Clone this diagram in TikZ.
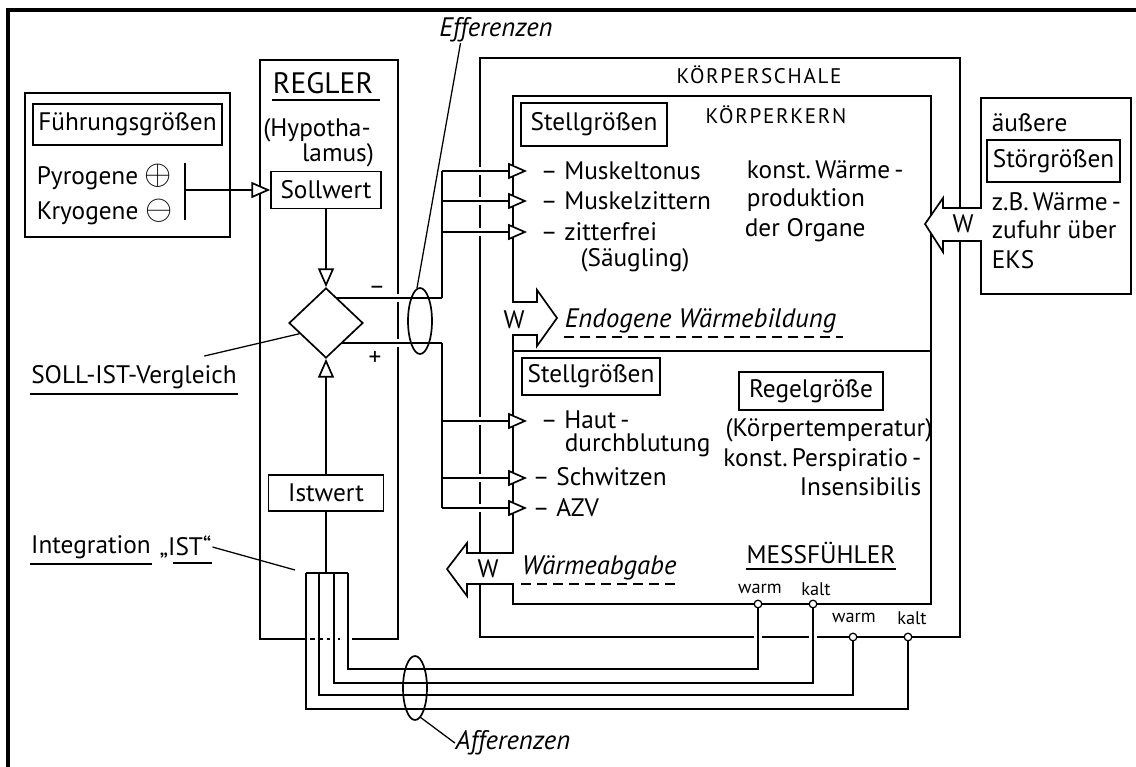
\documentclass[tikz,border=0pt]{standalone}
\usepackage{fontspec}
\setmainfont{PT Sans}
\usepackage{amsmath}
\usetikzlibrary{arrows.meta,positioning,shapes.geometric}

\begin{document}
\begin{tikzpicture}[x=0.025cm,y=-0.025cm,line width=1.2pt]
  \tikzstyle{lbl}=[inner sep=0pt,font=\fontsize{18}{20}\selectfont]
  \tikzstyle{lblw}=[lbl,anchor=west]
  \tikzstyle{caps}=[inner sep=0pt,font=\fontsize{15}{18}\selectfont\addfontfeature{LetterSpace=8}]
  \tikzstyle{ita}=[inner sep=0pt,font=\fontsize{19}{22}\selectfont\itshape]
  \tikzstyle{sml}=[inner sep=0pt,font=\fontsize{13}{15}\selectfont]
  \tikzstyle{box}=[draw,lbl,inner sep=3pt]
  \tikzstyle{tri}=[-{Triangle[fill=white,length=0.47cm,width=0.4cm]}]
  \tikzstyle{gap}=[preaction={draw=white,line width=5pt,-}]
  \tikzstyle{leader}=[line width=0.9pt]
  \tikzstyle{sensor}=[circle,draw,fill=white,inner sep=0pt,minimum size=0.19cm,line width=0.9pt]
  \tikzstyle{dashul}=[dash pattern=on 0.26cm off 0.14cm]

  \useasboundingbox (0,0) rectangle (1136,767);
  \fill[white] (0,0) rectangle (1136,767);
  \draw[line width=2.2pt] (8,767) -- (8,10) -- (1136,10);

  \draw (25,93) rectangle (230,237);
  \node[box,minimum width=4.72cm,minimum height=1.03cm] (fg) at (127.5,124.5) {Führungsgrößen};
  \node[lblw] (pyro) at (36,177) {Pyrogene {\fontsize{24}{24}\selectfont$\oplus$}};
  \node[lblw] (kryo) at (36,212) {Kryogene {\fontsize{24}{24}\selectfont$\ominus$}};
  \coordinate (bart) at (185,163);
  \coordinate (barb) at (185,220);
  \coordinate (barm) at (185,190);
  \draw (bart) -- (barb);

  \draw (302,639) -- (260,639) -- (260,60) -- (398,60) -- (398,639) -- (352,639);
  \draw[dashed] (302,639) -- (352,639);
  \node[lbl,font=\fontsize{21}{24}\selectfont] (regler) at (323,83) {REGLER};
  \draw ([yshift=-4pt]regler.south west) -- ([xshift=4pt,yshift=-4pt]regler.south east);
  \node[lbl] (hyp1) at (317,130) {(Hypotha-};
  \node[lbl] (hyp2) at (338,155) {lamus)};
  \node[box,minimum width=2.75cm,minimum height=0.93cm] (soll) at (326,190) {Sollwert};
  \node[box,minimum width=2.88cm,minimum height=0.9cm] (istw) at (326,493) {Istwert};
  \draw[tri] (barm) -- (soll);

  \draw (480,58) rectangle (960,637);
  \node[caps] (schale) at (759,75) {KÖRPERSCHALE};
  \draw[fill=white] (513,96) -- (931,96) -- (931,604) -- (513,604) -- (513,584) -- (467,584)
    -- (467,596) -- (447,569) -- (467,543) -- (467,553) -- (513,553) -- (513,335) -- (537,335)
    -- (537,346) -- (557,318) -- (537,290) -- (537,302) -- (513,302) -- cycle;
  \draw (513,351) -- (931,351);
  \node[caps] (kern) at (776,115) {KÖRPERKERN};

  \draw[fill=white] (981,98) -- (1131,98) -- (1131,294) -- (981,294) -- (981,241) -- (943,241)
    -- (943,252) -- (925,224) -- (943,198) -- (943,208) -- (981,208) -- cycle;
  \node[lbl] (wein) at (963,224) {W};
  \node[lblw] (aeuss) at (991,123) {äußere};
  \node[box,minimum width=3.33cm,minimum height=1.05cm] (stoer) at (1053.5,161) {Störgrößen};
  \node[lblw] (zb1) at (991,202) {z.B.\,Wärme\,-};
  \node[lblw] (zb2) at (991,230) {zufuhr über};
  \node[lblw] (zb3) at (991,260) {EKS};

  \coordinate (vc) at (326,323);
  \coordinate (em) at (442,298);
  \coordinate (ep) at (442,343);
  \foreach \y/\n in {171/1,201/2,232/3,421/4,478/5,508/6} {
    \coordinate (t\n) at (442,\y);
    \coordinate (m\n) at (527,\y);
    \draw[tri,gap] (t\n) -- (m\n);
  }
  \draw[gap] (vc |- em) -- (em);
  \draw[gap] (vc |- ep) -- (ep);
  \draw (em) -- (t1);
  \draw (ep) -- (t6);
  \node[diamond,draw,fill=white,minimum width=1.85cm,minimum height=1.75cm,inner sep=0pt] (vgl) at (vc) {};
  \draw[tri] (soll) -- (vgl);
  \draw[tri] (istw) -- (vgl);
  \node[lbl] (minus) at (377,290) {--};
  \node[lbl] (plus) at (375,358) {+};

  \draw (420,321) ellipse [x radius=12,y radius=33];
  \coordinate (effe) at (417,288);
  \node[ita] (eff) at (496,30) {Efferenzen};
  \draw[leader] ([xshift=0.55cm]eff.south west) -- (effe);

  \node[lbl] (sivgl) at (134,377) {SOLL-IST-Vergleich};
  \draw ([yshift=-3pt]sivgl.south west) -- ([yshift=-3pt]sivgl.south east);
  \draw[leader] ([xshift=-0.83cm,yshift=6pt]sivgl.north east) -- (vgl.202);

  \node[lbl] (integ) at (91,547) {Integration};
  \node[lbl,right=5pt of integ] (istq) {„IST“};
  \draw ([yshift=-3pt]integ.south west) -- ([yshift=-3pt]integ.south east);
  \draw ([xshift=0.35cm,yshift=-3pt]istq.south west) -- ([yshift=-3pt]istq.south east);
  \coordinate (intl) at (295,570);
  \draw[leader] (istq.east) -- (intl);

  \node[box,minimum width=3.65cm,minimum height=1.07cm] (stell1) at (594,124.5) {Stellgrößen};
  \node[lblw] (mton) at (540,171) {-- Muskeltonus};
  \node[lblw] (mzit) at (540,201) {-- Muskelzittern};
  \node[lblw] (zitf) at (540,232) {-- zitterfrei};
  \node[lbl] (saeug) at (635,260) {(Säugling)};
  \node[lblw] (kw1) at (746,170) {konst.\,Wärme\,-};
  \node[lblw] (kw2) at (746,200) {produktion};
  \node[lblw] (kw3) at (744,230) {der Organe};
  \node[lbl] (wendo) at (514,320) {W};
  \node[ita,anchor=west] (endo) at (564,321) {Endogene Wärmebildung};
  \draw[dashul] ([yshift=-2pt]endo.south west) -- ([xshift=4pt,yshift=-2pt]endo.south east);

  \node[box,minimum width=3.45cm,minimum height=0.93cm] (stell2) at (591,376.5) {Stellgrößen};
  \node[lblw] (haut) at (540,420) {-- Haut\,-};
  \node[lblw] (durch) at (564,445) {durchblutung};
  \node[lblw] (schw) at (532,477) {-- Schwitzen};
  \node[lblw] (azv) at (532,508) {-- AZV};
  \node[box,minimum width=3.6cm,minimum height=0.95cm] (regel) at (811,391) {Regelgröße};
  \node[lbl] (ktemp) at (829,430) {(Körpertemperatur)};
  \node[lbl,anchor=east] (persp) at (922,460) {konst.\,Perspiratio\,-};
  \node[lbl,anchor=east] (insens) at (922,487) {Insensibilis};
  \node[lbl] (wabg) at (488,569) {W};
  \node[ita,anchor=west] (abg) at (521,568) {Wärmeabgabe};
  \draw[dashul] ([yshift=-2pt]abg.south west) -- ([yshift=-2pt]abg.south east);
  \node[lbl] (mess) at (821,553) {MESSFÜHLER};
  \draw ([yshift=-3pt]mess.south west) -- ([yshift=-3pt]mess.south east);
  \node[sml] (warm1) at (760,589) {warm};
  \node[sml] (kalt1) at (816,589) {kalt};
  \node[sml] (warm2) at (854,618) {warm};
  \node[sml] (kalt2) at (912,618) {kalt};

  \coordinate (i1) at (348,573);
  \coordinate (i2) at (334,573);
  \coordinate (i3) at (319,573);
  \coordinate (i4) at (306,573);
  \coordinate (itop) at (326,573);
  \coordinate (pw1) at (758,604);
  \coordinate (pk1) at (813,604);
  \coordinate (pw2) at (853,637);
  \coordinate (pk2) at (908,637);
  \draw[gap] (pw1) -- ++(0,65) -| (i1);
  \draw[gap] (pk1) -- ++(0,79) -| (i2);
  \draw (pw2) -- ++(0,58) -| (i3);
  \draw (pk2) -- ++(0,72) -| (i4);
  \draw (i4) -- (i1);
  \draw (istw) -- (itop);
  \node[sensor] (sw1) at (pw1) {};
  \node[sensor] (sk1) at (pk1) {};
  \node[sensor] (sw2) at (pw2) {};
  \node[sensor] (sk2) at (pk2) {};

  \draw (415,688) ellipse [x radius=12,y radius=32];
  \coordinate (affe) at (420,717);
  \node[ita] (aff) at (513,743) {Afferenzen};
  \draw[leader] (affe) -- (aff.west);
\end{tikzpicture}
\end{document}
